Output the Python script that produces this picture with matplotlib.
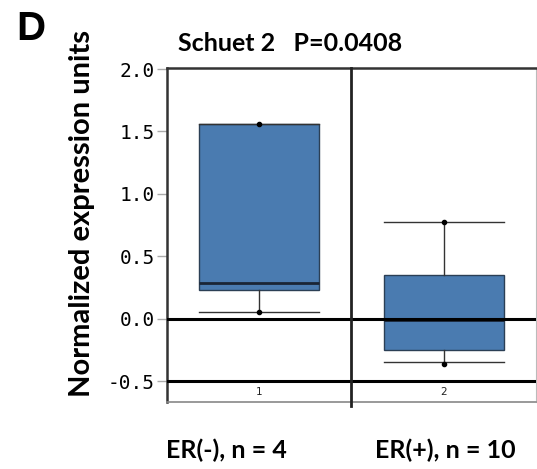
import matplotlib
matplotlib.use("Agg")
import matplotlib.pyplot as plt

groups = ["1", "2"]
group_labels = ["ER(-), n = 4", "ER(+), n = 10"]
whislo = [0.055, -0.345]
q1 = [0.232, -0.25]
med = [0.283, -0.014]
q3 = [1.557, 0.347]
whishi = [1.557, 0.772]
dots = [[1.557, 0.055], [0.772, -0.366]]
yticks = [-0.5, 0.0, 0.5, 1.0, 1.5, 2.0]
title = "Schuet 2   P=0.0408"
ylabel = "Normalized expression units"
panel = "D"

fig = plt.figure(figsize=(5.37, 4.69), dpi=100)
ax = fig.add_axes([0.311, 0.1429, 0.687, 0.7111])

stats = []
for i in range(len(groups)):
    stats.append(dict(whislo=whislo[i], q1=q1[i], med=med[i], q3=q3[i],
                      whishi=whishi[i], fliers=[], label=groups[i]))
positions = list(range(1, len(groups) + 1))
ax.bxp(stats, positions=positions, widths=0.65, patch_artist=True,
       showfliers=False,
       boxprops=dict(facecolor="#4a7bb0", edgecolor="#2b3f55", linewidth=1.0),
       medianprops=dict(color="#1a2535", linewidth=2.0),
       whiskerprops=dict(color="#333333", linewidth=1.0),
       capprops=dict(color="#333333", linewidth=1.0),
       capwidths=0.65, zorder=2)
for p, d in zip(positions, dots):
    ax.plot([p] * len(d), d, "o", color="black", ms=3, zorder=4)

ax.set_xlim(0.5, 2.5)
ax.set_ylim(-0.668, 2.005)
ax.axhline(0.0, color="black", lw=2.2, zorder=3)
ax.axhline(-0.5, color="black", lw=2.2, zorder=3)
ax.axvline(1.5, color="#222222", lw=2.0, zorder=3, ymin=-0.012, clip_on=False)

ax.set_yticks(yticks)
ax.set_yticklabels([f"{v:.1f}" for v in yticks], fontfamily="DejaVu Sans Mono",
                   fontsize=14)
ax.tick_params(axis="y", length=7, color="#aaaaaa", width=1, pad=2)
ax.set_xticks([])
for p, g in zip(positions, groups):
    ax.text(p, -0.59, g, ha="center", va="center", fontsize=7.5, color="#222222")

for s in ["top", "left"]:
    ax.spines[s].set_color("#333333")
    ax.spines[s].set_linewidth(1.8)
ax.spines["right"].set_color("#bbbbbb")
ax.spines["bottom"].set_color("#888888")
ax.spines["bottom"].set_linewidth(1.2)

fig.text(0.540, 0.908, title, ha="center", va="center", fontfamily="Lato",
         fontweight="bold", fontsize=18)
fig.text(0.153, 0.545, ylabel, rotation=90, ha="center", va="center",
         fontfamily="Lato", fontweight="bold", fontsize=21)
fig.text(0.058, 0.938, panel, ha="center", va="center",
         fontfamily="Liberation Sans", fontweight="bold", fontsize=29)
for x, t in zip([0.421, 0.829], group_labels):
    fig.text(x, 0.04, t, ha="center", va="center", fontfamily="Lato",
             fontweight="bold", fontsize=18)

fig.savefig("out.png", dpi=100)
